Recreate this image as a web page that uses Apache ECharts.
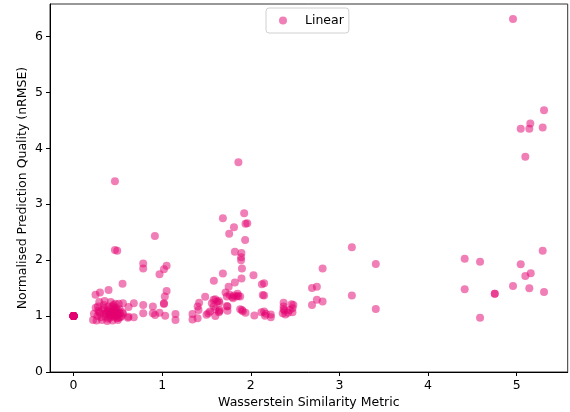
<!DOCTYPE html>
<html>
<head>
<meta charset="utf-8">
<script src="https://cdn.jsdelivr.net/npm/echarts@6/dist/echarts.min.js"></script>
<style>
  html, body { margin: 0; padding: 0; background: #fff; }
  #chart { width: 570px; height: 412px; }
</style>
</head>
<body>
<div id="chart"></div>
<script>
// Wasserstein similarity vs normalised prediction error, linear model runs.
// Each group holds [similarity, nRMSE] pairs.
const identicalRuns = [
  [0, 1], [0, 1], [0, 1], [0, 1], [0, 1], [0, 1], [0, 1], [0, 1],
  [0, 1], [0, 1], [0, 1], [0, 1], [0, 1], [0, 1], [0, 1]
];

const nearRuns = [
  [0.248, 1.38], [0.298, 1.42], [0.395, 1.466], [0.553, 1.58], [0.467, 3.41],
  [0.467, 2.18], [0.493, 2.17],
  [0.275, 1.17], [0.34, 1.2], [0.395, 1.17], [0.45, 1.2], [0.51, 1.22], [0.557, 1.23],
  [0.23, 1.04], [0.30, 1.05], [0.36, 1.04], [0.43, 1.06], [0.50, 1.03], [0.56, 1.04],
  [0.26, 0.92], [0.32, 0.93], [0.38, 0.91], [0.44, 0.92], [0.50, 0.93],
  [0.28, 1.10], [0.33, 1.12], [0.38, 1.08], [0.42, 1.13], [0.47, 1.10], [0.52, 1.12], [0.55, 1.07],
  [0.31, 0.98], [0.36, 0.99], [0.41, 0.97], [0.46, 0.99], [0.49, 0.96], [0.53, 0.98],
  [0.22, 0.93], [0.25, 1.15], [0.29, 1.25], [0.35, 1.27], [0.42, 1.25], [0.47, 1.22],
  [0.48, 1.15], [0.49, 1.07], [0.44, 1.02], [0.40, 1.02],
  [0.37, 1.05], [0.39, 1.10], [0.41, 1.06], [0.43, 1.00], [0.45, 1.08], [0.47, 1.04],
  [0.48, 1.00], [0.50, 1.10], [0.52, 1.05], [0.54, 1.00], [0.46, 1.13], [0.51, 0.97],
  [0.35, 1.15], [0.39, 0.95], [0.44, 1.17], [0.27, 1.00], [0.29, 1.07],
  [0.62, 1.16], [0.62, 0.99], [0.68, 1.23], [0.68, 0.98], [0.786, 1.2], [0.786, 1.05],
  [0.895, 1.17], [0.895, 1.05], [0.92, 1.02], [0.97, 1.06], [1.034, 1.007], [1.02, 1.215],
  [0.613, 0.97],
  [0.786, 1.94], [0.786, 1.85], [0.918, 2.43], [1.05, 1.9], [1.02, 1.835], [0.97, 1.746],
  [1.05, 1.45], [1.03, 1.35], [1.02, 1.23], [1.15, 1.037], [1.15, 0.93]
];

const midRuns = [
  [1.342, 1.037], [1.342, 0.94], [1.40, 0.96], [1.41, 1.11], [1.40, 1.17], [1.417, 1.24],
  [1.485, 1.346], [1.50, 1.024], [1.52, 1.05], [1.54, 1.08], [1.56, 1.23], [1.58, 1.29],
  [1.60, 1.3], [1.62, 1.26], [1.64, 1.27], [1.58, 1.17], [1.60, 1.12], [1.65, 1.11],
  [1.60, 1.0], [1.646, 1.085], [1.64, 1.07], [1.646, 1.24], [1.583, 1.63], [1.685, 1.76],
  [1.685, 2.75],
  [1.737, 1.17], [1.737, 1.096], [1.73, 1.18], [1.715, 1.42], [1.73, 1.35], [1.75, 1.525],
  [1.756, 2.47], [1.81, 2.59], [1.82, 2.15], [1.82, 1.60],
  [1.76, 1.38], [1.79, 1.34], [1.81, 1.37], [1.84, 1.35], [1.86, 1.36], [1.88, 1.35],
  [1.80, 1.32], [1.85, 1.40],
  [1.86, 3.75], [1.894, 2.13], [1.89, 2.05], [1.89, 2.0], [1.90, 1.85], [1.895, 1.67],
  [1.925, 2.84], [1.96, 2.66], [1.94, 2.65], [1.936, 2.36],
  [1.88, 1.12], [1.91, 1.085], [1.94, 1.06], [1.90, 1.11],
  [2.03, 1.73], [2.04, 1.01], [2.125, 1.57], [2.15, 1.585], [2.135, 1.376], [2.15, 1.37],
  [2.12, 1.067], [2.15, 1.08], [2.16, 1.006], [2.226, 1.03], [2.226, 0.98], [2.17, 1.04],
  [2.37, 1.24], [2.37, 1.17], [2.38, 1.10], [2.39, 1.03], [2.46, 1.21], [2.47, 1.14],
  [2.47, 1.07], [2.44, 1.11], [2.37, 1.12], [2.42, 1.06], [2.36, 1.05], [2.48, 1.2]
];

const farRuns = [
  [2.69, 1.5], [2.745, 1.525], [2.69, 1.2], [2.745, 1.29], [2.81, 1.26], [2.81, 1.85],
  [3.14, 2.23], [3.14, 1.37], [3.41, 1.93], [3.41, 1.126],
  [4.413, 2.025], [4.413, 1.478], [4.586, 1.97], [4.586, 0.97], [4.752, 1.40], [4.752, 1.40],
  [4.958, 6.31], [4.958, 1.537], [5.045, 4.35], [5.045, 1.925], [5.097, 3.85], [5.097, 1.716],
  [5.142, 4.35], [5.153, 4.445], [5.142, 1.496], [5.158, 1.764], [5.293, 4.37], [5.308, 4.68],
  [5.293, 2.17], [5.308, 1.43]
];

const xTicks = [0, 1, 2, 3, 4, 5];
const yTicks = [0, 1, 2, 3, 4, 5, 6];

const points = identicalRuns.concat(nearRuns, midRuns, farRuns);

const font = 'DejaVu Sans';
const fontSize = 12.5;
const chart = echarts.init(document.getElementById('chart'), null, { renderer: 'canvas' });

chart.setOption({
  animation: false,
  backgroundColor: '#fff',
  textStyle: { fontFamily: font, color: '#000' },
  grid: {
    left: 50, right: 2.3, top: 4, bottom: 40,
    containLabel: false,
    outerBoundsMode: 'none',
    show: true, borderColor: '#333', borderWidth: 1, backgroundColor: 'transparent'
  },
  legend: {
    data: ['Linear'],
    left: 266, top: 8,
    padding: [6, 5, 6, 13],
    borderColor: '#d0d0d0', borderWidth: 1, borderRadius: 3,
    backgroundColor: '#fff',
    itemWidth: 8, itemHeight: 8,
    icon: 'circle',
    itemStyle: { opacity: 0.5 },
    textStyle: { fontFamily: font, fontSize: fontSize, color: '#000', padding: [0, 0, 0, 13] }
  },
  xAxis: {
    type: 'value',
    min: -0.2655, max: 5.575,
    name: 'Wasserstein Similarity Metric',
    nameLocation: 'middle', nameGap: 24, nameMoveOverlap: false,
    nameTextStyle: { fontFamily: font, fontSize: fontSize, color: '#000' },
    splitLine: { show: false },
    axisLine: { show: true, onZero: false, lineStyle: { color: '#000', width: 1 } },
    axisTick: { show: true, length: 4, customValues: xTicks, lineStyle: { color: '#000' } },
    axisLabel: { customValues: xTicks, margin: 7, fontSize: fontSize, color: '#000', fontFamily: font }
  },
  yAxis: {
    type: 'value',
    min: 0, max: 6.58,
    name: 'Normalised Prediction Quality (nRMSE)',
    nameLocation: 'middle', nameGap: 21, nameMoveOverlap: false,
    nameTextStyle: { fontFamily: font, fontSize: fontSize, color: '#000' },
    splitLine: { show: false },
    axisLine: { show: true, onZero: false, lineStyle: { color: '#000', width: 1 } },
    axisTick: { show: true, length: 4, customValues: yTicks, lineStyle: { color: '#000' } },
    axisLabel: { customValues: yTicks, margin: 7, fontSize: fontSize, color: '#000', fontFamily: font }
  },
  series: [{
    name: 'Linear',
    type: 'scatter',
    data: points,
    symbol: 'circle',
    symbolSize: 8,
    itemStyle: { color: 'rgb(228,0,112)', opacity: 0.5 }
  }]
});
</script>
</body>
</html>
